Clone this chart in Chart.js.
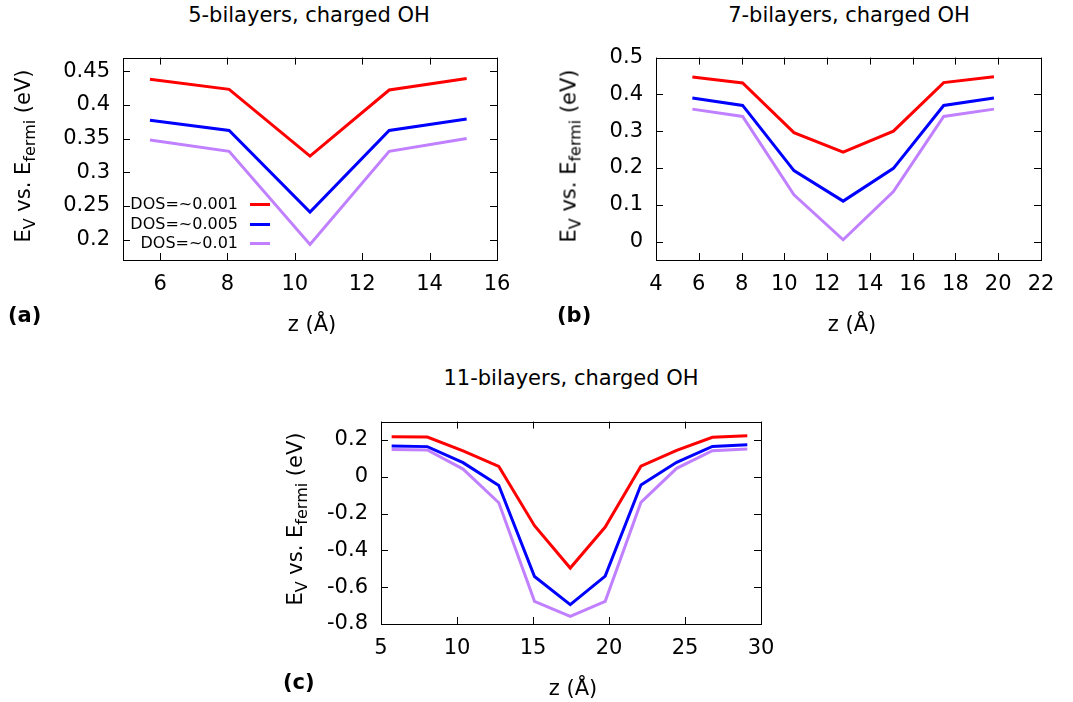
<!DOCTYPE html>
<html>
<head>
<meta charset="utf-8">
<script src="https://cdn.jsdelivr.net/npm/chart.js@4.4.1/dist/chart.umd.min.js"></script>
<style>
  html, body { margin: 0; padding: 0; background: #fff; }
  #page { position: relative; width: 1073px; height: 702px; overflow: hidden;
          font-family: 'DejaVu Sans', sans-serif; color: #000; }
  canvas { position: absolute; }
  .txt { position: absolute; white-space: nowrap; font-size: 21px; line-height: 1; }
  .ctr { transform: translate(-50%, -50%); }
  .ylab { transform: translate(-50%, -50%) rotate(-90deg); }
  .ylab sub { font-size: 16px; vertical-align: -5px; line-height: 0; }
  .tag { font-weight: bold; transform: translateY(-50%); }
  .leg { position: absolute; font-size: 16px; line-height: 1; white-space: nowrap;
         transform: translateY(-50%); text-align: right; }
  .legline { position: absolute; width: 20px; height: 3px; }
</style>
</head>
<body>
<div id="page">
  <canvas id="cA" width="494" height="278" style="left:33px;top:32px"></canvas>
  <canvas id="cB" width="505" height="278" style="left:566px;top:32px"></canvas>
  <canvas id="cC" width="500" height="278" style="left:291px;top:396px"></canvas>

  <div class="txt ctr" style="left:309px;top:15px">5-bilayers, charged OH</div>
  <div class="txt ctr" style="left:849px;top:15px">7-bilayers, charged OH</div>
  <div class="txt ctr" style="left:571px;top:378px">11-bilayers, charged OH</div>

  <div class="txt ylab" style="left:23px;top:156px">E<sub>V</sub> vs. E<sub>fermi</sub> (eV)</div>
  <div class="txt ylab" style="left:569px;top:156px">E<sub>V</sub> vs. E<sub>fermi</sub> (eV)</div>
  <div class="txt ylab" style="left:295px;top:519px">E<sub>V</sub> vs. E<sub>fermi</sub> (eV)</div>

  <div class="txt ctr" style="left:312px;top:324px">z (Å)</div>
  <div class="txt ctr" style="left:852px;top:324px">z (Å)</div>
  <div class="txt ctr" style="left:573px;top:688px">z (Å)</div>

  <div class="txt tag" style="left:8px;top:315px">(a)</div>
  <div class="txt tag" style="left:557px;top:315px">(b)</div>
  <div class="txt tag" style="left:283px;top:682px">(c)</div>

  <div id="legend"></div>
</div>

<script>
// ── DATA ──────────────────────────────────
const seriesNames  = ['DOS=~0.001', 'DOS=~0.005', 'DOS=~0.01'];
const seriesColors = ['#ff0000', '#0000ff', '#c080ff'];

// 5 bilayers
const zA      = [5.7, 8.05, 10.45, 12.8, 15.1];
const redA    = [0.438, 0.423, 0.324, 0.422, 0.439];
const blueA   = [0.377, 0.362, 0.241, 0.362, 0.379];
const purpleA = [0.348, 0.331, 0.193, 0.331, 0.350];
const xTicksA = [6, 8, 10, 12, 14, 16];
const yTicksA = [0.2, 0.25, 0.3, 0.35, 0.4, 0.45];

// 7 bilayers
const zB      = [5.7, 8.05, 10.45, 12.75, 15.1, 17.45, 19.8];
const redB    = [0.447, 0.431, 0.296, 0.243, 0.300, 0.432, 0.448];
const blueB   = [0.390, 0.370, 0.193, 0.110, 0.199, 0.370, 0.390];
const purpleB = [0.360, 0.340, 0.127, 0.005, 0.136, 0.340, 0.360];
const xTicksB = [4, 6, 8, 10, 12, 14, 16, 18, 20, 22];
const yTicksB = [0, 0.1, 0.2, 0.3, 0.4, 0.5];

// 11 bilayers
const zC      = [5.7, 8.05, 10.4, 12.75, 15.1, 17.45, 19.75, 22.1, 24.45, 26.8, 29.1];
const redC    = [0.218, 0.216, 0.141, 0.056, -0.266, -0.496, -0.273, 0.058, 0.144, 0.215, 0.223];
const blueC   = [0.167, 0.164, 0.077, -0.047, -0.542, -0.695, -0.540, -0.044, 0.079, 0.165, 0.174];
const purpleC = [0.148, 0.146, 0.042, -0.141, -0.677, -0.758, -0.677, -0.139, 0.046, 0.142, 0.151];
const xTicksC = [5, 10, 15, 20, 25, 30];
const yTicksC = [-0.8, -0.6, -0.4, -0.2, 0, 0.2];

// ── FRAME + INWARD TICKS (gnuplot look) ───
const framePlugin = {
  id: 'frame',
  afterDraw(chart) {
    const { ctx, chartArea: a, scales } = chart;
    const tl = 7;
    ctx.save();
    ctx.strokeStyle = '#000';
    ctx.lineWidth = 1;
    ctx.beginPath();
    scales.x.ticks.forEach(t => {
      const px = Math.round(scales.x.getPixelForValue(t.value)) + 0.5;
      ctx.moveTo(px, a.bottom); ctx.lineTo(px, a.bottom - tl);
      ctx.moveTo(px, a.top);    ctx.lineTo(px, a.top + tl);
    });
    scales.y.ticks.forEach(t => {
      const py = Math.round(scales.y.getPixelForValue(t.value)) + 0.5;
      ctx.moveTo(a.left, py);  ctx.lineTo(a.left + tl, py);
      ctx.moveTo(a.right, py); ctx.lineTo(a.right - tl, py);
    });
    ctx.stroke();
    ctx.strokeRect(Math.round(a.left) + 0.5, Math.round(a.top) + 0.5,
                   Math.round(a.right - a.left), Math.round(a.bottom - a.top));
    ctx.restore();
  }
};

// ── CHART BUILDER ─────────────────────────
const fmt = v => String(+Number(v).toFixed(2));

function makePanel(id, z, ys, xr, yr, xTicks, yTicks) {
  const datasets = ys.map((vals, i) => ({
    label: seriesNames[i],
    data: z.map((x, k) => ({ x, y: vals[k] })),
    borderColor: seriesColors[i],
    backgroundColor: seriesColors[i],
    borderWidth: 3,
    pointRadius: 0,
    tension: 0
  })).reverse(); // red drawn last, on top

  return new Chart(document.getElementById(id), {
    type: 'line',
    data: { datasets },
    plugins: [framePlugin],
    options: {
      responsive: false,
      animation: false,
      layout: { padding: { left: 30, top: 20, right: 30, bottom: 10 } },
      plugins: { legend: { display: false }, tooltip: { enabled: false } },
      scales: {
        x: {
          type: 'linear', min: xr[0], max: xr[1],
          afterBuildTicks: s => { s.ticks = xTicks.map(v => ({ value: v })); },
          afterFit: s => { s.height = 40; },
          grid: { display: false, drawTicks: false },
          border: { display: false },
          ticks: { color: '#000', padding: 12, maxRotation: 0, autoSkip: false,
                   font: { family: 'DejaVu Sans', size: 21 }, callback: fmt }
        },
        y: {
          type: 'linear', min: yr[0], max: yr[1],
          afterBuildTicks: s => { s.ticks = yTicks.map(v => ({ value: v })); },
          afterFit: s => { s.width = 60; },
          grid: { display: false, drawTicks: false },
          border: { display: false },
          ticks: { color: '#000', padding: 13, autoSkip: false,
                   font: { family: 'DejaVu Sans', size: 21 }, callback: fmt }
        }
      }
    }
  });
}

makePanel('cA', zA, [redA, blueA, purpleA], [4.9, 16],  [0.17, 0.47], xTicksA, yTicksA);
makePanel('cB', zB, [redB, blueB, purpleB], [4, 22],    [-0.05, 0.5], xTicksB, yTicksB);
makePanel('cC', zC, [redC, blueC, purpleC], [5, 30],    [-0.8, 0.3],  xTicksC, yTicksC);

// ── LEGEND (panel a) ──────────────────────
const legRows = [204, 224, 243];
document.getElementById('legend').innerHTML = seriesNames.map((n, i) => `
  <div class="leg" style="right:${1073 - 238}px;top:${legRows[i]}px">${n}</div>
  <div class="legline" style="left:250px;top:${legRows[i] - 1}px;background:${seriesColors[i]}"></div>`).join('');
</script>
</body>
</html>
